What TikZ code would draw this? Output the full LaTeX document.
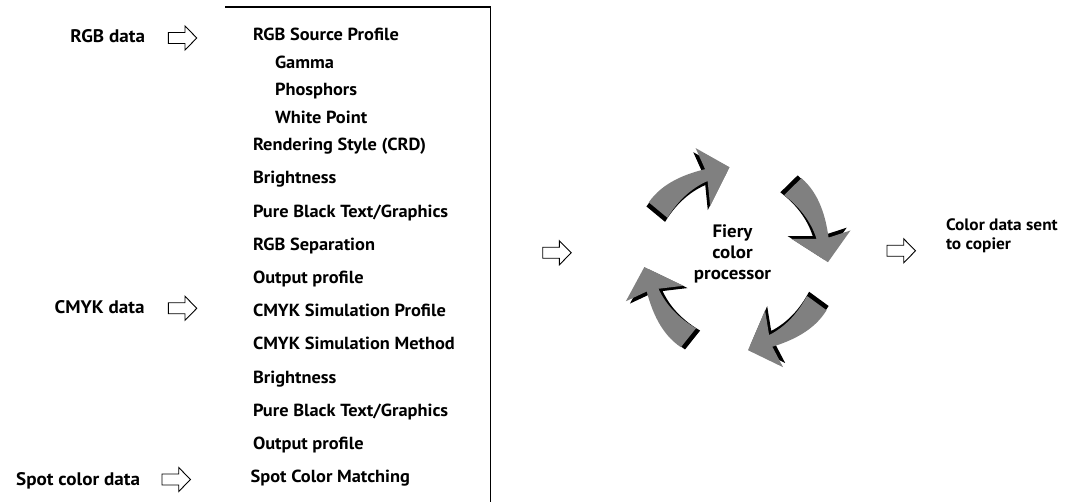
\documentclass[tikz,border=0pt]{standalone}
\usepackage{fontspec}
\setmainfont{PT Sans}[FakeStretch=1.05]
\definecolor{swooshgray}{RGB}{128,128,128}
\newcommand\swooshpath{(145:104) .. controls (132:106) and (119:99) .. (107:95) -- (108:118) -- (92:92) -- (114:59) -- (108:83) .. controls (121:84) and (134:82) .. (147:80) -- cycle}
\begin{document}
\begin{tikzpicture}[x=1pt,y=-1pt,
  every node/.style={inner sep=0pt, outer sep=0pt},
  txt/.style={font=\fontsize{17.5}{20}\selectfont\bfseries},
  item/.style={txt, anchor=base west},
  src/.style={font=\fontsize{18.2}{22}\selectfont\bfseries, anchor=base east},
  hollow/.pic={\draw[line width=0.9pt, line join=miter] (0,-5.5) -- (16.7,-5.5) -- (16.7,-12) -- (28.5,0) -- (16.7,12) -- (16.7,5.5) -- (0,5.5) -- cycle;},
  swoosh/.pic={\fill[black, shift={(-2.5,-4)}] \swooshpath; \fill[swooshgray] \swooshpath;}
]
\useasboundingbox (0,0) rectangle (1074,502);
% box lines
\coordinate (boxtl) at (225,7);
\coordinate (boxtr) at (490.5,7);
\coordinate (boxbr) at (490.5,502);
\draw[line width=1.3pt] (boxtl) -- (boxtr) -- (boxbr);
% sources
\node[src] (rgb) at (145,42.7) {RGB data};
\node[src] (cmyk) at (144.5,313.3) {CMYK data};
\node[src] (spot) at (140,485.7) {Spot color data};
\pic at (168.3,38) {hollow};
\pic at (168.3,308.3) {hollow};
\pic at (162,479.5) {hollow};
% list
\node[item] (i1) at (253,40.7) {RGB Source Profile};
\node[item] (i2) at (275,68.2) {Gamma};
\node[item] (i3) at (275,95.7) {Phosphors};
\node[item] (i4) at (275,123.2) {White Point};
\node[item] (i5) at (253,150.7) {Rendering Style (CRD)};
\node[item] (i6) at (253,183.9) {Brightness};
\node[item] (i7) at (253,217.1) {Pure Black Text/Graphics};
\node[item] (i8) at (253,250.3) {RGB Separation};
\node[item] (i9) at (253,283.5) {Output profile};
\node[item] (i10) at (253,316.7) {CMYK Simulation Profile};
\node[item] (i11) at (253,349.9) {CMYK Simulation Method};
\node[item] (i12) at (253,383.1) {Brightness};
\node[item] (i13) at (253,416.3) {Pure Black Text/Graphics};
\node[item] (i14) at (253,449.5) {Output profile};
\node[item] (i15) at (250.7,482.7) {Spot Color Matching};
% middle arrows
\pic at (542.7,252.8) {hollow};
\pic at (887,250.8) {hollow};
% cycle
\begin{scope}[shift={(736,259)}, y=1pt]
\pic[rotate=2] {swoosh};
\pic[rotate=-94] {swoosh};
\pic[rotate=-174.5] {swoosh};
\pic[rotate=93] {swoosh};
\end{scope}
\node[align=center, font=\fontsize{18}{21}\selectfont\bfseries] (fiery) at (732.5,254) {Fiery\\color\\processor};
\node[align=left, anchor=base west, font=\fontsize{16.5}{19.5}\selectfont\bfseries] (out) at (946,250) {Color data sent\\to copier};
\end{tikzpicture}
\end{document}
